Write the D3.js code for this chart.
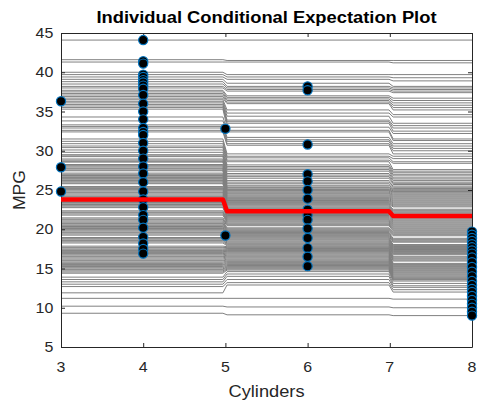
<!DOCTYPE html>
<html><head><meta charset="utf-8">
<script src="https://cdn.jsdelivr.net/npm/d3@7/dist/d3.min.js"></script>
<style>body{margin:0;background:#fff;}svg{display:block;}</style>
</head><body>
<script>
// ICE evaluation grid (cylinder values where the curves change level)
const iceGridX = [3, 4.9697, 5.0202, 6.9899, 7.0404, 8];

// ICE curve levels, one entry per observation: value on [3,5), [5,7), [7,8]
const iceLeft = [
 44.1, 41.6, 41.3,
 40.0, 39.7, 39.4, 39.1, 38.8, 38.5, 38.2, 38.0, 37.7, 37.5, 37.3, 37.1, 36.9, 36.7, 36.5, 36.3, 36.1, 35.9, 35.7, 35.5, 35.3,
 34.3, 33.8, 33.3, 33.1, 32.9, 32.6, 32.4, 31.5, 31.2, 30.9, 30.6, 30.4, 30.1, 29.8,
 29.5, 29.35, 29.25, 28.95, 28.8, 28.65, 28.55, 28.25, 28.1, 27.95, 27.8, 27.7, 27.55, 27.45,
 27.15, 27.0, 26.85, 26.75, 26.6, 26.45, 26.3, 26.2, 26.05, 25.9, 25.8,
 25.45, 25.3, 25.2, 25.05, 24.9, 24.75, 24.65, 24.5, 24.35, 24.2, 24.1, 23.95, 23.8, 23.7, 23.55, 23.4, 23.25, 23.15, 23.0, 22.85, 22.75,
 22.35, 22.2, 22.1, 21.95, 21.8,
 21.45, 21.3, 21.2, 21.05, 20.9, 20.75, 20.65, 20.5, 20.35, 20.2, 20.1, 19.95, 19.8, 19.65, 19.55, 19.4, 19.25,
 18.95, 18.8, 18.65, 18.55, 18.4, 18.25,
 17.85, 17.7, 17.6, 17.45, 17.3, 17.15, 17.05, 16.9, 16.75, 16.6, 16.5, 16.35, 16.2, 16.05, 15.95, 15.8, 15.65, 15.5, 15.4, 15.25, 15.1, 14.95, 14.85, 14.7, 14.55, 14.4,
 13.9, 13.6, 13.3, 13.0, 12.7, 11.9, 11.2, 10.2, 9.3
];
const iceMid = [
 44.1, 41.5, 41.3,
 39.7, 39.4, 39.1, 38.6, 38.2, 38.0, 37.8, 37.6, 37.0, 36.8, 36.6, 36.4, 36.2, 36.0, 35.2, 34.8, 34.4, 33.9, 33.7, 33.5, 33.0,
 32.6, 32.4, 31.7, 31.4, 31.2, 30.9, 30.7, 29.6, 29.3, 29.1, 28.8, 28.6, 28.2, 28.0,
 27.8, 27.6, 27.4, 27.1, 26.9, 26.7, 26.5, 26.2, 26.0, 25.8, 25.6, 25.4, 25.3, 25.15, 25.05, 24.95,
 24.85, 24.72, 24.6, 24.5, 24.37, 24.25, 24.13, 24.02, 23.9, 23.77,
 23.66, 23.55, 23.42, 23.3, 23.18, 23.07, 22.95, 22.82, 22.7, 22.6,
 22.47, 22.35, 22.24, 22.12, 22.0, 21.88, 21.75, 21.64, 21.52, 21.4,
 21.28, 21.17, 21.05, 20.93, 20.8, 20.68, 20.57, 20.45, 20.18, 20.06,
 19.94, 19.82, 19.7, 19.58, 19.47, 19.35, 19.22, 19.1, 18.98, 18.86,
 18.74, 18.63, 18.5, 18.38, 18.26, 18.15, 18.03, 17.9, 17.78, 17.66,
 17.55, 17.43, 17.3, 17.18, 17.07, 16.95, 16.83, 16.7, 16.58, 16.47,
 16.35, 16.22, 16.1, 15.98, 15.87, 15.75, 15.62, 15.5, 15.38, 15.27,
 15.15, 15.03, 14.92, 14.8,
 14.6, 14.3, 14.0, 13.6, 13.2, 12.9, 11.2, 10.1, 9.1
];
const iceRight = [
 44.1, 41.5, 41.2,
 39.7, 39.3, 38.9, 38.2, 38.0, 37.8, 37.6, 37.4, 36.7, 36.4, 36.1, 35.8, 35.5, 35.2, 34.6, 34.3, 33.5, 33.2, 32.9, 32.5, 32.2,
 31.5, 31.3, 30.9, 30.6, 30.3, 30.0, 29.6, 29.3, 29.0, 28.6, 28.4, 27.6, 27.4, 27.2,
 27.0, 26.8, 26.55, 26.4, 26.2, 26.0, 25.85, 25.7, 25.5, 25.35, 25.2, 25.1, 25.0, 24.9, 24.8, 24.72,
 24.6, 24.47, 24.35, 24.22, 24.1, 23.97, 23.85, 23.72, 23.6, 23.47,
 23.35, 23.22, 23.1, 22.97, 22.85, 22.55, 22.42, 22.3, 22.17, 22.05,
 21.92, 21.8, 21.67, 21.55, 21.42, 21.3, 21.17, 21.05, 20.92, 20.8,
 20.67, 20.55, 20.42, 20.3, 20.17, 20.05, 19.92, 19.8, 19.67, 19.55,
 19.42, 19.3, 19.17, 18.85, 18.72, 18.6, 18.47, 18.35, 18.05, 17.92,
 17.8, 17.67, 17.55, 17.42, 17.3, 17.17, 17.05, 16.92, 16.8, 16.57,
 16.45, 16.32, 16.2, 16.07, 15.95, 15.65, 15.52, 15.4, 15.27, 15.15,
 15.02, 14.9, 14.77, 14.65, 14.52, 14.4, 14.27, 14.15, 14.02, 13.9,
 13.8, 13.7, 13.62, 13.55,
 13.4, 13.1, 12.8, 12.6, 12.3, 12.0, 11.1, 10.0, 9.0
];

// Partial dependence (average) on [3,5), [5,7), [7,8]
const pdValues = [23.8, 22.3, 21.7];

// Observed points: predicted MPG at each observation's own cylinder count
const obsCyl3 = [36.3, 27.9, 24.8];
const obsCyl4 = [44.1, 41.4, 41.1, 39.7, 39.4, 39.0, 38.7, 38.3, 37.9, 37.1, 36.0, 35.0, 34.0, 32.9, 32.4, 32.0, 31.0, 30.0, 29.0, 28.0, 27.1, 26.0, 24.8, 23.8, 22.8, 21.8, 21.2, 20.2, 19.0, 18.2, 17.5, 16.9];
const obsCyl5 = [32.8, 19.2];
const obsCyl6 = [38.2, 37.7, 30.8, 27.0, 26.1, 25.0, 23.9, 22.5, 21.8, 21.2, 20.1, 18.9, 17.6, 16.5, 15.3];
const obsCyl8 = [19.7, 19.3, 18.9, 18.5, 18.1, 17.7, 17.3, 16.9, 16.4, 15.8, 15.2, 14.6, 14.0, 13.4, 12.9, 12.4, 12.0, 11.5, 11.0, 10.5, 10.0, 9.5, 9.0];

const xTicks = [3, 4, 5, 6, 7, 8];
const yTicks = [5, 10, 15, 20, 25, 30, 35, 40, 45];
const titleText = "Individual Conditional Expectation Plot";
const xLabel = "Cylinders";
const yLabel = "MPG";

const W = 480, H = 402;
const L = 61, R = 472, T = 33, B = 347;
const FONT = "'Liberation Sans', Arial, Helvetica, sans-serif";
const AX = "#262626";

const svg = d3.select("body").append("svg").attr("width", W).attr("height", H);
svg.append("rect").attr("width", W).attr("height", H).attr("fill", "#fff");

const x = d3.scaleLinear().domain([3, 8]).range([L, R]);
const y = d3.scaleLinear().domain([5, 45]).range([B, T]);

svg.append("clipPath").attr("id", "plotclip")
  .append("rect").attr("x", L).attr("y", T).attr("width", R - L).attr("height", B - T);

const line = d3.line().x(d => x(d[0])).y(d => y(d[1]));

// ICE curves
const curves = iceLeft.map((v, i) => [
  [iceGridX[0], v], [iceGridX[1], v],
  [iceGridX[2], iceMid[i]], [iceGridX[3], iceMid[i]],
  [iceGridX[4], iceRight[i]], [iceGridX[5], iceRight[i]]
]);
svg.append("g").attr("clip-path", "url(#plotclip)")
  .selectAll("path").data(curves).join("path")
  .attr("d", line).attr("fill", "none")
  .attr("stroke", "#808080").attr("stroke-width", 1);

// Axes (box with inward ticks)
function styleAxis(g) {
  g.attr("color", AX);
  g.selectAll("path.domain").attr("stroke-width", 1);
  g.selectAll(".tick line").attr("stroke-width", 1);
}
svg.append("g").attr("transform", `translate(0,${B})`)
  .call(d3.axisBottom(x).tickValues(xTicks).tickSizeInner(-4).tickSizeOuter(0).tickFormat(""))
  .call(styleAxis);
svg.append("g").attr("transform", `translate(0,${T})`)
  .call(d3.axisTop(x).tickValues(xTicks).tickSizeInner(-4).tickSizeOuter(0).tickFormat(""))
  .call(styleAxis);
svg.append("g").attr("transform", `translate(${L},0)`)
  .call(d3.axisLeft(y).tickValues(yTicks).tickSizeInner(-4).tickSizeOuter(0).tickFormat(""))
  .call(styleAxis);
svg.append("g").attr("transform", `translate(${R},0)`)
  .call(d3.axisRight(y).tickValues(yTicks).tickSizeInner(-4).tickSizeOuter(0).tickFormat(""))
  .call(styleAxis);

// Tick labels
const stretch = 1.14;
svg.append("g").selectAll("g").data(xTicks).join("g")
  .attr("transform", d => `translate(${x(d)},371.7) scale(${stretch},1)`)
  .append("text").attr("text-anchor", "middle")
  .attr("font-family", FONT).attr("font-size", 14).attr("fill", AX)
  .text(d => d);
svg.append("g").selectAll("g").data(yTicks).join("g")
  .attr("transform", d => `translate(53.3,${y(d) + 5}) scale(${stretch},1)`)
  .append("text").attr("text-anchor", "end")
  .attr("font-family", FONT).attr("font-size", 14).attr("fill", AX)
  .text(d => d);

// Observed points
const obs = [].concat(
  obsCyl3.map(v => [3, v]), obsCyl4.map(v => [4, v]), obsCyl5.map(v => [5, v]),
  obsCyl6.map(v => [6, v]), obsCyl8.map(v => [8, v])
);
svg.append("g").selectAll("circle").data(obs).join("circle")
  .attr("cx", d => x(d[0])).attr("cy", d => y(d[1])).attr("r", 4.6)
  .attr("fill", "#000").attr("stroke", "#0072BD").attr("stroke-width", 1.2);

// Partial dependence line
const pdPts = [
  [iceGridX[0], pdValues[0]], [iceGridX[1], pdValues[0]],
  [iceGridX[2], pdValues[1]], [iceGridX[3], pdValues[1]],
  [iceGridX[4], pdValues[2]], [iceGridX[5], pdValues[2]]
];
svg.append("path").datum(pdPts).attr("d", line)
  .attr("fill", "none").attr("stroke", "#FF0000").attr("stroke-width", 4.5)
  .attr("stroke-linejoin", "round");

// Title and labels
svg.append("text").attr("x", 266.5).attr("y", 22.7).attr("text-anchor", "middle")
  .attr("font-family", FONT).attr("font-size", 16).attr("font-weight", "bold").attr("fill", "#000")
  .attr("textLength", 340).attr("lengthAdjust", "spacingAndGlyphs")
  .text(titleText);
svg.append("text").attr("x", 266.5).attr("y", 396.7).attr("text-anchor", "middle")
  .attr("font-family", FONT).attr("font-size", 16).attr("fill", AX)
  .attr("textLength", 76).attr("lengthAdjust", "spacingAndGlyphs")
  .text(xLabel);
svg.append("text").attr("transform", "translate(25,190) rotate(-90)").attr("text-anchor", "middle")
  .attr("font-family", FONT).attr("font-size", 17).attr("fill", AX)
  .attr("textLength", 40).attr("lengthAdjust", "spacingAndGlyphs")
  .text(yLabel);
</script>
</body></html>
